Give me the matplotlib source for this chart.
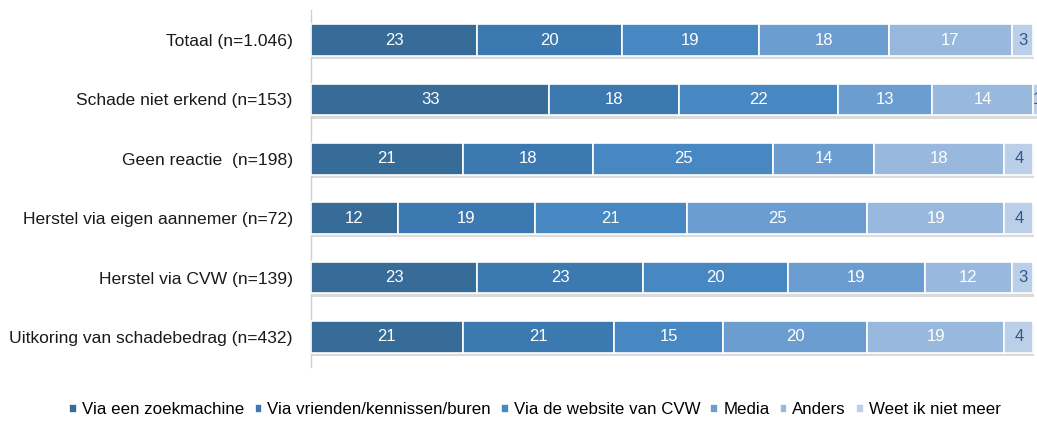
import matplotlib
matplotlib.use("Agg")
import matplotlib.pyplot as plt
import matplotlib.patheffects as pe
import numpy as np

categories = [
    "Totaal (n=1.046)",
    "Schade niet erkend (n=153)",
    "Geen reactie  (n=198)",
    "Herstel via eigen aannemer (n=72)",
    "Herstel via CVW (n=139)",
    "Uitkoring van schadebedrag (n=432)",
]
series_names = [
    "Via een zoekmachine",
    "Via vrienden/kennissen/buren",
    "Via de website van CVW",
    "Media",
    "Anders",
    "Weet ik niet meer",
]
zoekmachine = [23, 33, 21, 12, 23, 21]
vrienden = [20, 18, 18, 19, 23, 21]
website = [19, 22, 25, 21, 20, 15]
media = [18, 13, 14, 25, 19, 20]
anders = [17, 14, 18, 19, 12, 19]
weet_niet = [3, 1, 4, 4, 3, 4]
series = [zoekmachine, vrienden, website, media, anders, weet_niet]

colors = ["#376b98", "#3c79b0", "#4787c2", "#6b9dd0", "#99b8de", "#bccfe9"]
text_colors = ["white", "white", "white", "white", "white", "#2d5a8c"]

plt.rcParams['font.family'] = ['Liberation Sans', 'DejaVu Sans']

fig = plt.figure(figsize=(10.37, 4.21), dpi=100)
ax = fig.add_axes([0.2999, 0.129, 0.7001, 0.8465])

y = np.arange(len(categories))
left = np.zeros(len(categories))
for vals, col, tc, name in zip(series, colors, text_colors, series_names):
    vals = np.array(vals, dtype=float)
    bars = ax.barh(y, vals, left=left, height=0.53, color=col, edgecolor="white",
                   linewidth=1.2, label=name, zorder=3)
    for b in bars:
        b.set_path_effects([pe.SimplePatchShadow(offset=(0.5, -2.5), shadow_rgbFace="#9a9a9a", alpha=0.35),
                            pe.Normal()])
    for yi, v, l in zip(y, vals, left):
        ax.text(l + v / 2, yi, f"{int(v)}", ha="center", va="center",
                color=tc, fontsize=12, zorder=5, clip_on=False,
                family=['Liberation Sans Narrow', 'Liberation Sans', 'DejaVu Sans'])
    left += vals

ax.set_xlim(0, 100.5)
ax.set_ylim(len(categories) - 0.5, -0.5)
ax.set_yticks(y)
ax.set_yticklabels(categories, fontsize=12.6, color="#1a1a1a")
ax.tick_params(axis="y", length=0, pad=13)
ax.set_xticks([])
for s in ["top", "right", "bottom"]:
    ax.spines[s].set_visible(False)
ax.spines["left"].set_color("#d0d0d0")
ax.spines["left"].set_linewidth(1.0)

handles, labels = ax.get_legend_handles_labels()
leg = fig.legend(handles, labels, loc="center", bbox_to_anchor=(0.516, 0.027), ncol=6,
                 frameon=False, fontsize=12.2, handlelength=0.45, handleheight=0.45,
                 handletextpad=0.3, columnspacing=0.6)
for h in leg.legend_handles:
    h.set_path_effects([])

fig.savefig("out.png", dpi=100)
